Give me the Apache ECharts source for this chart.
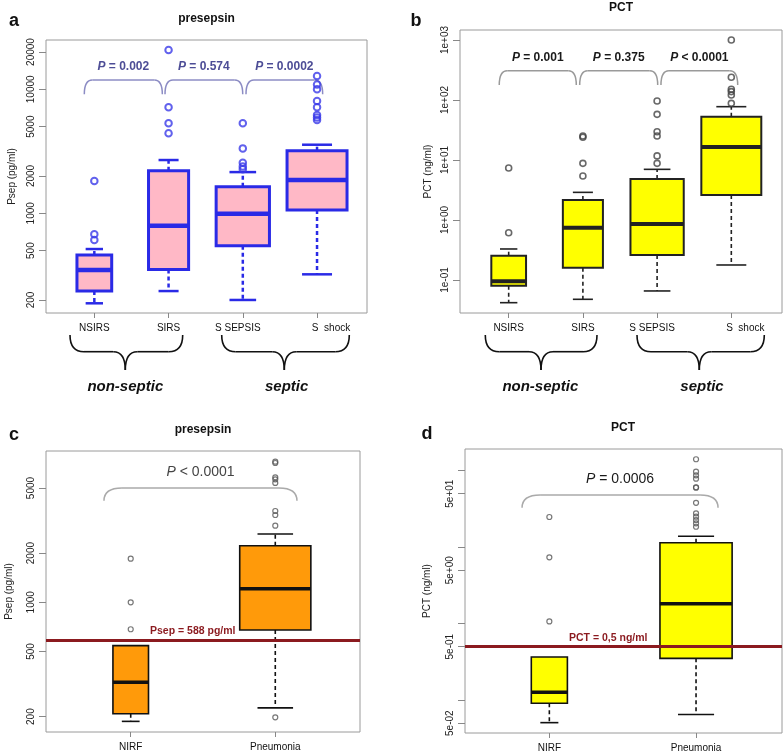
<!DOCTYPE html>
<html><head><meta charset="utf-8">
<script src="https://cdn.jsdelivr.net/npm/echarts@6/dist/echarts.min.js"></script>
<style>html,body{margin:0;padding:0;background:#fff}#c{width:784px;height:756px}</style>
</head><body><div id="c"></div>
<script>
// ---------------- DATA ----------------
const catsAB = ['NSIRS', 'SIRS', 'S SEPSIS', 'S  shock'];
const catsCD = ['NIRF', 'Pneumonia'];
// box stats: [lower whisker, Q1, median, Q3, upper whisker]
const presepA = [
  [188, 236, 349, 461, 515],
  [236, 353, 794, 2207, 2690],
  [200, 548, 993, 1640, 2150],
  [322, 1064, 1857, 3200, 3575]
];
const presepAOut = [
  [1820, 677, 609],
  [20750, 7160, 5320, 4420],
  [5320, 3340, 2560, 2380, 2265],
  [12800, 10960, 10000, 8050, 7160, 6210, 5940, 5650]
];
const pctB = [
  [0.0419, 0.080, 0.095, 0.254, 0.329],
  [0.0477, 0.16, 0.745, 2.15, 2.89],
  [0.0657, 0.26, 0.86, 4.82, 6.99],
  [0.178, 2.61, 16.5, 52.7, 77.4]
];
const pctBOut = [
  [7.36, 0.615],
  [25.1, 24.0, 8.8, 5.4],
  [96, 57.7, 29.6, 25.1, 11.7, 8.8],
  [1000, 239, 151, 138, 121, 88]
];
const presepC = [
  [187, 208, 324, 543, 543],
  [226, 677, 1211, 2219, 2616]
];
const presepCOut = [
  [1848, 1000, 684],
  [7244, 7110, 5816, 5648, 5370, 3616, 3420, 2942, 198]
];
const pctD = [
  [0.0508, 0.091, 0.127, 0.367, 0.367],
  [0.065, 0.352, 1.82, 11.4, 13.9]
];
const pctDOut = [
  [24.8, 7.37, 1.07],
  [141, 97, 87, 78.5, 60.7, 60, 38, 27.7, 25, 22.6, 20.5, 18.5]
];
const pLabelsA = ['= 0.002', '= 0.574', '= 0.0002'];
const pLabelsB = ['= 0.001', '= 0.375', '< 0.0001'];
const pLabelsC = ['< 0.0001'];
const pLabelsD = ['= 0.0006'];
const cutoffC = 588;
const cutoffD = 0.5;
const ticksA = [200, 500, 1000, 2000, 5000, 10000, 20000];
const ticksB = [0.1, 1, 10, 100, 1000];
const ticksC = [200, 500, 1000, 2000, 5000];
const ticksD = [0.05, 0.1, 0.5, 1, 5, 10, 50, 100];
const tickLabelsD = [0.05, 0.5, 5, 50];

// ---------------- LAYOUT / STYLE ----------------
const FF = '"Liberation Sans", Arial, sans-serif';
const halfWAB = [0.234, 0.27, 0.359, 0.404];
const halfWCD = [0.123, 0.246];
// brace annotations [x1, x2, yTop, yEnd, yText] in axis coordinates
const bracesA = [[0.865, 1.916, 11885, 9120, 15210], [1.952, 2.999, 11885, 9120, 15210], [3.043, 4.076, 11885, 9120, 15210]];
const bracesB = [[0.873, 1.911, 307.8, 177.8, 515], [1.957, 3.008, 307.8, 177.8, 515], [3.052, 4.086, 307.8, 177.8, 515]];
const bracesC = [[0.815, 2.15, 5000, 4180, 6240]];
const bracesD = [[0.814, 2.15, 48.1, 32.8, 77.8]];

const stA = {fill: '#ffb8c6', line: '#2a2ae6', boxW: 3, medW: 4.5, whW: 2.5, dash: [4, 3], out: '#3a3ae8', outW: 2, outS: 6.5};
const stB = {fill: '#ffff00', line: '#222', boxW: 2, medW: 4, whW: 1.6, dash: [4, 3], out: '#444', outW: 1.6, outS: 6};
const stC = {fill: '#ff9a0a', line: '#111', boxW: 1.6, medW: 3.5, whW: 1.6, dash: [4, 3], out: '#555', outW: 1.2, outS: 5};
const stD = {fill: '#ffff00', line: '#111', boxW: 1.6, medW: 3.5, whW: 1.6, dash: [4, 3], out: '#555', outW: 1.2, outS: 5};

function boxRenderer(st, halfW) {
  return function (params, api) {
    const i = params.dataIndex;
    const x = api.value(0);
    const hw = halfW[i];
    const yLow = api.coord([x, api.value(1)])[1];
    const yQ1 = api.coord([x, api.value(2)])[1];
    const pMed = api.coord([x, api.value(3)]);
    const yQ3 = api.coord([x, api.value(4)])[1];
    const yHigh = api.coord([x, api.value(5)])[1];
    const xl = api.coord([x - hw, api.value(3)])[0];
    const xr = api.coord([x + hw, api.value(3)])[0];
    const cx = pMed[0];
    const cw = (xr - xl) / 4;
    const ch = [];
    const dash = {stroke: st.line, lineWidth: st.whW, lineDash: st.dash};
    const solid = {stroke: st.line, lineWidth: st.whW};
    if (yHigh < yQ3 - 0.5) {
      ch.push({type: 'line', shape: {x1: cx, y1: yQ3, x2: cx, y2: yHigh}, style: dash});
      ch.push({type: 'line', shape: {x1: cx - cw, y1: yHigh, x2: cx + cw, y2: yHigh}, style: solid});
    }
    if (yLow > yQ1 + 0.5) {
      ch.push({type: 'line', shape: {x1: cx, y1: yQ1, x2: cx, y2: yLow}, style: dash});
      ch.push({type: 'line', shape: {x1: cx - cw, y1: yLow, x2: cx + cw, y2: yLow}, style: solid});
    }
    ch.push({type: 'rect', shape: {x: xl, y: yQ3, width: xr - xl, height: yQ1 - yQ3},
      style: {fill: st.fill, stroke: st.line, lineWidth: st.boxW}});
    ch.push({type: 'line', shape: {x1: xl, y1: pMed[1], x2: xr, y2: pMed[1]},
      style: {stroke: st.line, lineWidth: st.medW}});
    return {type: 'group', children: ch};
  };
}

function braceRenderer(labels, color, lineColor, font, bold, r) {
  return function (params, api) {
    const x1 = api.value(0), x2 = api.value(1);
    const pL = api.coord([x1, api.value(2)]);
    const pR = api.coord([x2, api.value(2)]);
    const yEnd = api.coord([x1, api.value(3)])[1];
    const yText = api.coord([x1, api.value(4)])[1];
    const yT = pL[1];
    const ls = {stroke: lineColor, lineWidth: 1.5, fill: null};
    return {type: 'group', children: [
      {type: 'bezierCurve', shape: {x1: pL[0], y1: yEnd, cpx1: pL[0], cpy1: yT, x2: pL[0] + r, y2: yT}, style: ls},
      {type: 'line', shape: {x1: pL[0] + r, y1: yT, x2: pR[0] - r, y2: yT}, style: ls},
      {type: 'bezierCurve', shape: {x1: pR[0] - r, y1: yT, cpx1: pR[0], cpy1: yT, x2: pR[0], y2: yEnd}, style: ls},
      {type: 'text', x: (pL[0] + pR[0]) / 2, y: yText,
        style: {text: '{i|P} ' + labels[params.dataIndex], fill: color, fontSize: font, fontFamily: FF,
          fontWeight: bold ? 'bold' : 'normal', align: 'center', verticalAlign: 'middle',
          rich: {i: {fontStyle: 'italic', fontSize: font, fontFamily: FF, fill: color, fontWeight: bold ? 'bold' : 'normal'}}}}
    ]};
  };
}

function statsData(stats) { return stats.map((s, i) => [i + 1].concat(s)); }
function outData(outs) {
  const res = [];
  outs.forEach((arr, i) => arr.forEach(v => res.push([i + 1, v])));
  return res;
}

const grids = [
  {left: 46, top: 40, width: 321, height: 273},
  {left: 460, top: 30, width: 322, height: 283},
  {left: 46, top: 451, width: 314, height: 281},
  {left: 465, top: 449, width: 317, height: 284}
].map(g => Object.assign(g, {show: true, borderColor: '#9a9a9a', borderWidth: 1, backgroundColor: 'transparent', containLabel: false}));

const xExt = [[0.349, 4.673], [0.344, 4.683], [0.414, 2.586], [0.425, 2.586]];
const yExt = [[157, 25000], [0.0282, 1468], [161, 8420], [0.0372, 192]];

function catFormatter(cats) {
  return function (v) {
    const c = cats[Math.round(v) - 1];
    if (c === 'S SEPSIS') return '{l|' + c + '}';
    if (c === 'S  shock') return '{r|' + c + '}';
    return c;
  };
}
function xAxisOf(gi, cats) {
  const vals = cats.map((c, i) => i + 1);
  return {type: 'value', gridIndex: gi, min: xExt[gi][0], max: xExt[gi][1],
    axisLine: {show: false}, splitLine: {show: false},
    axisTick: {show: true, customValues: vals, length: 5, lineStyle: {color: '#888'}},
    axisLabel: {customValues: vals, formatter: catFormatter(cats), margin: 10, fontSize: 10, color: '#111', fontFamily: FF,
      rich: {l: {padding: [0, 10, 0, 0], fontSize: 10, fontFamily: FF, color: '#111'},
             r: {padding: [0, 0, 0, 28], fontSize: 10, fontFamily: FF, color: '#111'}}}};
}
function yAxisOf(gi, ticks, labVals, fmt, name, gap) {
  return {type: 'log', logBase: 10, gridIndex: gi, min: yExt[gi][0], max: yExt[gi][1],
    axisLine: {show: false}, splitLine: {show: false},
    axisTick: {show: true, customValues: ticks, length: 7, lineStyle: {color: '#888'}},
    axisLabel: {customValues: labVals, formatter: fmt, rotate: 90, margin: 10, fontSize: 10, color: '#222', fontFamily: FF},
    name: name, nameLocation: 'middle', nameGap: gap, nameRotate: 90,
    nameTextStyle: {fontSize: 10, color: '#222', fontFamily: FF}};
}
const fmtInt = v => String(Math.round(v));
function fmtSci(mant) {
  return v => {
    const e = Math.round(Math.log10(v / mant));
    return mant + 'e' + (e < 0 ? '-' : '+') + String(Math.abs(e)).padStart(2, '0');
  };
}

function outSeries(gi, data, st, extra) {
  return Object.assign({type: 'scatter', xAxisIndex: gi, yAxisIndex: gi, data: data, symbol: 'circle', symbolSize: st.outS,
    itemStyle: {color: 'rgba(0,0,0,0)', borderColor: st.out, borderWidth: st.outW}, z: 3, silent: true}, extra || {});
}
function cutLine(value, text) {
  return {silent: true, symbol: 'none', data: [{yAxis: value}],
    lineStyle: {color: '#8b1a1f', width: 3, type: 'solid'},
    label: {show: true, position: 'insideStartTop', distance: [104, 3], formatter: text,
      color: '#8b1a1f', fontWeight: 'bold', fontSize: 10.5, fontFamily: FF}};
}

function bottomBrace(x1, x2, cx) {
  const yT = 335, yM = 351.7, yTip = 370;
  const ls = {stroke: '#111', lineWidth: 1.6, fill: null};
  return {type: 'group', children: [
    {type: 'bezierCurve', shape: {x1: x1, y1: yT, cpx1: x1, cpy1: yM, x2: x1 + 14, y2: yM}, style: ls},
    {type: 'line', shape: {x1: x1 + 14, y1: yM, x2: cx - 12, y2: yM}, style: ls},
    {type: 'bezierCurve', shape: {x1: cx - 12, y1: yM, cpx1: cx, cpy1: yM, x2: cx, y2: yTip}, style: ls},
    {type: 'bezierCurve', shape: {x1: cx, y1: yTip, cpx1: cx, cpy1: yM, x2: cx + 12, y2: yM}, style: ls},
    {type: 'line', shape: {x1: cx + 12, y1: yM, x2: x2 - 14, y2: yM}, style: ls},
    {type: 'bezierCurve', shape: {x1: x2 - 14, y1: yM, cpx1: x2, cpy1: yM, x2: x2, y2: yT}, style: ls}
  ]};
}
function txt(x, y, t, font, color) {
  return {type: 'text', x: x, y: y, style: {text: t, font: font, fill: color || '#111',
    align: 'center', verticalAlign: 'middle'}};
}

const option = {
  animation: false,
  backgroundColor: '#fff',
  grid: grids,
  xAxis: [xAxisOf(0, catsAB), xAxisOf(1, catsAB), xAxisOf(2, catsCD), xAxisOf(3, catsCD)],
  yAxis: [
    yAxisOf(0, ticksA, ticksA, fmtInt, 'Psep (pg/ml)', 29),
    yAxisOf(1, ticksB, ticksB, fmtSci(1), 'PCT (ng/ml)', 27),
    yAxisOf(2, ticksC, ticksC, fmtInt, 'Psep (pg/ml)', 32),
    yAxisOf(3, ticksD, tickLabelsD, fmtSci(5), 'PCT (ng/ml)', 33)
  ],
  graphic: [
    txt(14, 21, 'a', 'bold 18px ' + FF),
    txt(416, 21, 'b', 'bold 18px ' + FF),
    txt(14, 435, 'c', 'bold 18px ' + FF),
    txt(427, 434, 'd', 'bold 18px ' + FF),
    txt(206.5, 18.7, 'presepsin', 'bold 12px ' + FF),
    txt(621, 7.5, 'PCT', 'bold 12px ' + FF),
    txt(203, 429.3, 'presepsin', 'bold 12px ' + FF),
    txt(623, 427.3, 'PCT', 'bold 12px ' + FF),
    bottomBrace(70, 182.7, 125.3),
    bottomBrace(221.7, 349.3, 284.3),
    bottomBrace(485.3, 597, 541),
    bottomBrace(637, 764.3, 699.3),
    txt(125.3, 387, 'non-septic', 'italic bold 15px ' + FF),
    txt(286.7, 387, 'septic', 'italic bold 15px ' + FF),
    txt(540.3, 387.3, 'non-septic', 'italic bold 15px ' + FF),
    txt(702, 387.3, 'septic', 'italic bold 15px ' + FF)
  ],
  series: [
    {type: 'custom', xAxisIndex: 0, yAxisIndex: 0, data: statsData(presepA), renderItem: boxRenderer(stA, halfWAB), encode: {x: 0, y: [1, 2, 3, 4, 5]}, silent: true},
    outSeries(0, outData(presepAOut), stA),
    {type: 'custom', xAxisIndex: 0, yAxisIndex: 0, data: bracesA, renderItem: braceRenderer(pLabelsA, '#4d4d96', '#8c8cc4', 12, true, 8), encode: {x: [0, 1], y: [2, 3, 4]}, silent: true, clip: false},

    {type: 'custom', xAxisIndex: 1, yAxisIndex: 1, data: statsData(pctB), renderItem: boxRenderer(stB, halfWAB), encode: {x: 0, y: [1, 2, 3, 4, 5]}, silent: true},
    outSeries(1, outData(pctBOut), stB),
    {type: 'custom', xAxisIndex: 1, yAxisIndex: 1, data: bracesB, renderItem: braceRenderer(pLabelsB, '#1a1a1a', '#9a9a9a', 12, true, 8), encode: {x: [0, 1], y: [2, 3, 4]}, silent: true, clip: false},

    {type: 'custom', xAxisIndex: 2, yAxisIndex: 2, data: statsData(presepC), renderItem: boxRenderer(stC, halfWCD), encode: {x: 0, y: [1, 2, 3, 4, 5]}, silent: true},
    outSeries(2, outData(presepCOut), stC, {markLine: cutLine(cutoffC, 'Psep = 588 pg/ml')}),
    {type: 'custom', xAxisIndex: 2, yAxisIndex: 2, data: bracesC, renderItem: braceRenderer(pLabelsC, '#444', '#aaa', 14, false, 18), encode: {x: [0, 1], y: [2, 3, 4]}, silent: true, clip: false},

    {type: 'custom', xAxisIndex: 3, yAxisIndex: 3, data: statsData(pctD), renderItem: boxRenderer(stD, halfWCD), encode: {x: 0, y: [1, 2, 3, 4, 5]}, silent: true},
    outSeries(3, outData(pctDOut), stD, {markLine: cutLine(cutoffD, 'PCT = 0,5 ng/ml')}),
    {type: 'custom', xAxisIndex: 3, yAxisIndex: 3, data: bracesD, renderItem: braceRenderer(pLabelsD, '#1a1a1a', '#aaa', 14, false, 18), encode: {x: [0, 1], y: [2, 3, 4]}, silent: true, clip: false}
  ]
};
const chart = echarts.init(document.getElementById('c'), null, {renderer: 'canvas'});
chart.setOption(option);
</script></body></html>
